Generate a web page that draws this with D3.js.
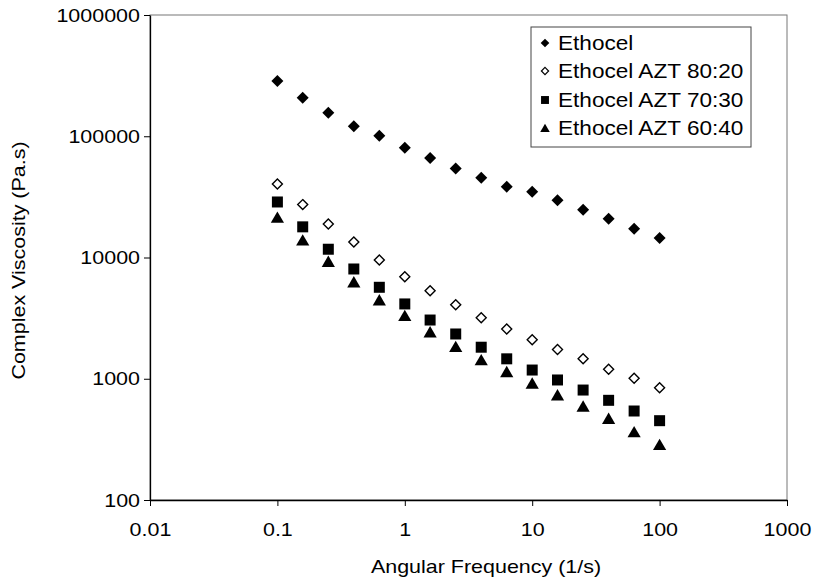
<!DOCTYPE html>
<html>
<head>
<meta charset="utf-8">
<script src="https://cdn.jsdelivr.net/npm/d3@7"></script>
<style>
  html, body { margin: 0; padding: 0; background: #fff; }
  svg { display: block; }
  text { font-family: "Liberation Sans", Arial, sans-serif; fill: #000; }
</style>
</head>
<body>
<svg id="chart" width="818" height="587"></svg>
<script>
// ---- data ----
const frequency = [0.1, 0.158, 0.251, 0.398, 0.631, 1, 1.58, 2.51, 3.98, 6.31, 10, 15.8, 25.1, 39.8, 63.1, 100];
const ethocel   = [286000, 208000, 156000, 121000, 101000, 80500, 66200, 54300, 45500, 38400, 34900, 29600, 24800, 20900, 17300, 14500];
const azt8020   = [40400, 27300, 18900, 13400, 9530, 6950, 5320, 4080, 3190, 2570, 2100, 1740, 1460, 1200, 1010, 843];
const azt7030   = [28700, 17900, 11700, 8040, 5680, 4140, 3050, 2340, 1820, 1460, 1180, 977, 807, 664, 542, 451];
const azt6040   = [21400, 13900, 9250, 6280, 4460, 3310, 2430, 1840, 1430, 1140, 917, 734, 593, 469, 364, 286];
const seriesNames = ["Ethocel", "Ethocel AZT 80:20", "Ethocel AZT 70:30", "Ethocel AZT 60:40"];
const xTicks = [0.01, 0.1, 1, 10, 100, 1000];
const yTicks = [100, 1000, 10000, 100000, 1000000];
const xTitle = "Angular Frequency (1/s)";
const yTitle = "Complex Viscosity (Pa.s)";

// ---- layout ----
const L = 150, R = 787, T = 15, B = 500;
const FS = 19, SX = 1.13;
const svg = d3.select("#chart");
const x = d3.scaleLog().domain([0.01, 1000]).range([L, R]);
const y = d3.scaleLog().domain([100, 1000000]).range([B, T]);

// plot frame (top/right)
svg.append("rect").attr("x", L).attr("y", T).attr("width", R - L).attr("height", B - T)
  .attr("fill", "none").attr("stroke", "#777").attr("stroke-width", 1);

// axes
const gx = svg.append("g").attr("transform", `translate(0,${B})`)
  .call(d3.axisBottom(x).tickValues(xTicks).tickFormat(d => String(d)).tickSize(6).tickSizeOuter(0).tickPadding(17));
const gy = svg.append("g").attr("transform", `translate(${L},0)`)
  .call(d3.axisLeft(y).tickValues(yTicks).tickFormat(d3.format("d")).tickSize(6).tickSizeOuter(0).tickPadding(4));
[gx, gy].forEach(g => {
  g.select(".domain").attr("stroke", "#000").attr("stroke-width", 1.3);
  g.selectAll(".tick line").attr("stroke", "#000").attr("stroke-width", 1);
  g.selectAll(".tick text").attr("font-size", FS).attr("font-family", "Liberation Sans, Arial, sans-serif").attr("fill", "#000");
});
gx.selectAll(".tick text").attr("transform", `scale(${SX},1)`);
gy.selectAll(".tick text").each(function() {
  const t = d3.select(this);
  const xx = +t.attr("x");
  t.attr("x", xx / SX).attr("transform", `scale(${SX},1)`);
});

// titles
svg.append("text").attr("transform", `translate(486,573) scale(${SX},1)`)
  .attr("text-anchor", "middle").attr("font-size", FS).text(xTitle);
svg.append("text").attr("transform", `translate(25,${(T + B) / 2 + 3}) rotate(-90) scale(${SX},1)`)
  .attr("text-anchor", "middle").attr("font-size", FS).text(yTitle);

// marker shapes
const diamond = s => `M0,${-s}L${s},0L0,${s}L${-s},0Z`;
const square = s => `M${-s},${-s}H${s}V${s}H${-s}Z`;
const triangle = s => `M0,${-s * 1.0}L${s * 1.1},${s * 0.9}L${-s * 1.1},${s * 0.9}Z`;
const styles = [
  { path: diamond, size: 6, fill: "#000", stroke: "none", sw: 0 },
  { path: diamond, size: 5, fill: "#fff", stroke: "#000", sw: 1.4 },
  { path: square, size: 5.5, fill: "#000", stroke: "none", sw: 0 },
  { path: triangle, size: 6, fill: "#000", stroke: "none", sw: 0 }
];
const allSeries = [ethocel, azt8020, azt7030, azt6040];

allSeries.forEach((vals, i) => {
  const st = styles[i];
  svg.append("g").selectAll("path").data(vals).join("path")
    .attr("transform", (d, j) => `translate(${x(frequency[j])},${y(d)})`)
    .attr("d", st.path(st.size))
    .attr("fill", st.fill).attr("stroke", st.stroke).attr("stroke-width", st.sw);
});

// legend
const lg = svg.append("g");
lg.append("rect").attr("x", 531).attr("y", 27).attr("width", 220).attr("height", 120)
  .attr("fill", "#fff").attr("stroke", "#444").attr("stroke-width", 1);
const rowY = [43, 71, 100, 128];
seriesNames.forEach((name, i) => {
  const st = styles[i];
  lg.append("path").attr("transform", `translate(545,${rowY[i]})`)
    .attr("d", st.path(st.size * 0.72))
    .attr("fill", st.fill).attr("stroke", st.stroke).attr("stroke-width", st.sw ? 1.2 : 0);
  lg.append("text").attr("transform", `translate(558,${rowY[i] + 7}) scale(${SX},1)`)
    .attr("font-size", 20).text(name);
});
</script>
</body>
</html>
